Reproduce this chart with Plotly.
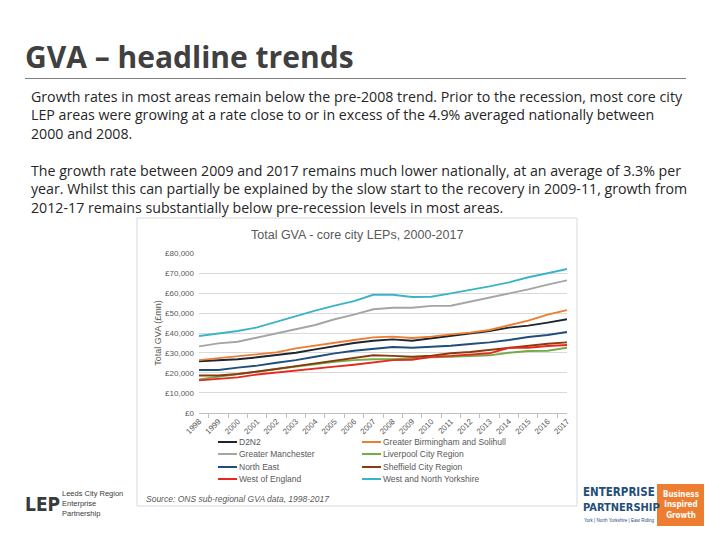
import plotly.graph_objects as go

years = [str(y) for y in range(1998, 2018)]

d2n2 = [25800, 26400, 26800, 27800, 29000, 30100, 31800, 33500, 35000, 36100,
        36800, 36100, 37300, 38800, 39800, 41000, 42700, 43700, 45200, 46900]
birmingham = [26400, 27300, 28300, 29100, 30300, 32300, 33800, 35300, 36500, 37800,
              38200, 37500, 38200, 39300, 40200, 41500, 43800, 46200, 49200, 51500]
manchester = [33300, 34800, 35600, 37700, 39800, 41800, 44000, 46900, 49200, 51900,
              52700, 52700, 53600, 53700, 55700, 57700, 59600, 61900, 64300, 66400]
liverpool = [16700, 18100, 19200, 20600, 21900, 23100, 24400, 25600, 26400, 26800,
             26800, 27400, 27800, 28100, 28600, 28800, 30100, 31000, 31100, 32600]
north_east = [21400, 21400, 22600, 23600, 25100, 26400, 28100, 29800, 31100, 32100,
              33000, 32600, 33000, 33600, 34500, 35300, 36500, 38000, 39000, 40500]
sheffield = [18700, 18700, 19400, 20600, 21900, 23400, 24800, 26100, 27400, 28800,
             28500, 28100, 28600, 29800, 30500, 31500, 32500, 33800, 34600, 35300]
west_england = [16200, 16900, 17700, 19200, 20100, 21300, 22100, 23100, 24100, 25300,
                26400, 26600, 28100, 28500, 29000, 29800, 32600, 32600, 33500, 34000]
west_north_yorks = [38500, 39700, 41000, 42800, 45700, 48500, 51200, 53700, 56000, 59200,
                    59200, 58100, 58200, 59900, 61600, 63400, 65400, 68000, 70000, 72100]

series_names = ["D2N2", "Greater Birmingham and Solihull", "Greater Manchester",
                "Liverpool City Region", "North East", "Sheffield City Region",
                "West of England", "West and North Yorkshire"]
series_values = [d2n2, birmingham, manchester, liverpool, north_east, sheffield,
                 west_england, west_north_yorks]
series_colors = ["#1B2631", "#ED7D31", "#A5A5A5", "#70AD47", "#1F4E79", "#8B3A0E",
                 "#E8281E", "#3CB4C8"]

y_ticks = [0, 10000, 20000, 30000, 40000, 50000, 60000, 70000, 80000]
y_tick_labels = ["£0", "£10,000", "£20,000", "£30,000", "£40,000", "£50,000",
                 "£60,000", "£70,000", "£80,000"]

W, H = 720, 540
def px(x):
    return x / W
def py(y):
    return 1 - y / H

COND = "DejaVu Sans Condensed, DejaVu Sans, sans-serif"

fig = go.Figure()
for name, vals, col in zip(series_names, series_values, series_colors):
    fig.add_trace(go.Scatter(x=years, y=vals, mode="lines", name=name,
                             line=dict(color=col, width=1.9), showlegend=False))

fig.update_layout(
    width=W, height=H, margin=dict(l=0, r=0, t=0, b=0, autoexpand=False),
    paper_bgcolor="white", plot_bgcolor="white",
    font=dict(family="Liberation Sans, Arial, sans-serif", color="#595959"),
    xaxis=dict(domain=[px(199), px(567)], type="category", automargin=False,
               tickangle=-45, tickfont=dict(size=8, color="#595959"),
               showgrid=False, showline=True, linecolor="#BFBFBF", linewidth=1,
               ticks="outside", ticklen=4, tickcolor="#BFBFBF", tickson="boundaries"),
    yaxis=dict(domain=[py(412.7), py(253.3)], range=[0, 80000], automargin=False,
               tickmode="array", tickvals=y_ticks, ticktext=y_tick_labels,
               tickfont=dict(size=8, color="#595959"), ticklabelstandoff=4,
               showgrid=True, gridcolor="#D9D9D9", gridwidth=1,
               zeroline=False, showline=False,
               title=dict(text="Total GVA (£mn)", font=dict(size=9, color="#595959"),
                          standoff=1)),
)

shapes = []
annotations = []

# Slide title and divider
annotations.append(dict(x=px(23), y=py(57), xref="paper", yref="paper",
                        xanchor="left", yanchor="middle", showarrow=False,
                        text="<b>GVA – headline trends</b>",
                        font=dict(size=30, color="#404040",
                                  family="Open Sans, Liberation Sans, sans-serif")))
shapes.append(dict(type="line", xref="paper", yref="paper",
                   x0=px(25), x1=px(686), y0=py(78.5), y1=py(78.5),
                   line=dict(color="#7F7F7F", width=1)))

body = ("Growth rates in most areas remain below the pre-2008 trend. Prior to the recession, most core city<br>"
        "LEP areas were growing at a rate close to or in excess of the 4.9% averaged nationally between<br>"
        "2000 and 2008.<br><br>"
        "The growth rate between 2009 and 2017 remains much lower nationally, at an average of 3.3% per<br>"
        "year. Whilst this can partially be explained by the slow start to the recovery in 2009-11, growth from<br>"
        "2012-17 remains substantially below pre-recession levels in most areas.")
annotations.append(dict(x=px(29), y=py(85), xref="paper", yref="paper",
                        xanchor="left", yanchor="top", align="left", showarrow=False,
                        text=body,
                        font=dict(size=14.2, color="#262626",
                                  family="Open Sans, Liberation Sans, sans-serif")))

# Chart frame
shapes.append(dict(type="rect", xref="paper", yref="paper",
                   x0=px(137), x1=px(577), y0=py(506), y1=py(218),
                   line=dict(color="#D9D9D9", width=1), fillcolor="rgba(0,0,0,0)",
                   layer="below"))

annotations.append(dict(x=px(357), y=py(235), xref="paper", yref="paper",
                        xanchor="center", yanchor="middle", showarrow=False,
                        text="Total GVA - core city LEPs, 2000-2017",
                        font=dict(size=12.5, color="#595959")))

# Legend (manual, two columns)
legend_pos = [(218, 442), (362, 442), (218, 454), (362, 454),
              (218, 467), (362, 467), (218, 479), (362, 479)]
for (lx, ly), name, col in zip(legend_pos, series_names, series_colors):
    shapes.append(dict(type="line", xref="paper", yref="paper",
                       x0=px(lx), x1=px(lx + 19), y0=py(ly), y1=py(ly),
                       line=dict(color=col, width=2)))
    annotations.append(dict(x=px(lx + 19), y=py(ly), xref="paper", yref="paper",
                            xanchor="left", yanchor="middle", showarrow=False,
                            text=name, font=dict(size=8.5, color="#595959")))

annotations.append(dict(x=px(144), y=py(499), xref="paper", yref="paper",
                        xanchor="left", yanchor="middle", showarrow=False,
                        text="<i>Source: ONS sub-regional GVA data, 1998-2017</i>",
                        font=dict(size=8.5, color="#595959")))

# Left logo (Leeds City Region LEP)
annotations.append(dict(x=px(23), y=py(504), xref="paper", yref="paper",
                        xanchor="left", yanchor="middle", showarrow=False,
                        text="<b>LEP</b>",
                        font=dict(size=19, color="#3A3A3A", family=COND)))
annotations.append(dict(x=px(60), y=py(503), xref="paper", yref="paper",
                        xanchor="left", yanchor="middle", align="left", showarrow=False,
                        text="Leeds City Region<br>Enterprise<br>Partnership",
                        font=dict(size=7.5, color="#3A3A3A")))

# Right logo (York, North Yorkshire & East Riding LEP)
annotations.append(dict(x=px(581), y=py(492), xref="paper", yref="paper",
                        xanchor="left", yanchor="middle", showarrow=False,
                        text="<b>ENTERPRISE</b>",
                        font=dict(size=11.5, color="#1F4E79", family=COND)))
annotations.append(dict(x=px(581), y=py(507), xref="paper", yref="paper",
                        xanchor="left", yanchor="middle", showarrow=False,
                        text="<b>PARTNERSHIP</b>",
                        font=dict(size=11, color="#1F4E79", family=COND)))
annotations.append(dict(x=px(582), y=py(520), xref="paper", yref="paper",
                        xanchor="left", yanchor="middle", showarrow=False,
                        text="York | North Yorkshire | East Riding",
                        font=dict(size=4.5, color="#1F4E79")))
shapes.append(dict(type="rect", xref="paper", yref="paper",
                   x0=px(657), x1=px(704), y0=py(526), y1=py(484),
                   line=dict(width=0), fillcolor="#ED7D31"))
annotations.append(dict(x=px(680.5), y=py(505), xref="paper", yref="paper",
                        xanchor="center", yanchor="middle", align="center", showarrow=False,
                        text="<b>Business<br>Inspired<br>Growth</b>",
                        font=dict(size=8, color="white", family=COND)))

fig.update_layout(shapes=shapes, annotations=annotations)
fig.write_html("out.html", config={"displayModeBar": False},
               post_script="document.body.style.margin='0px';document.body.style.overflow='hidden';")
